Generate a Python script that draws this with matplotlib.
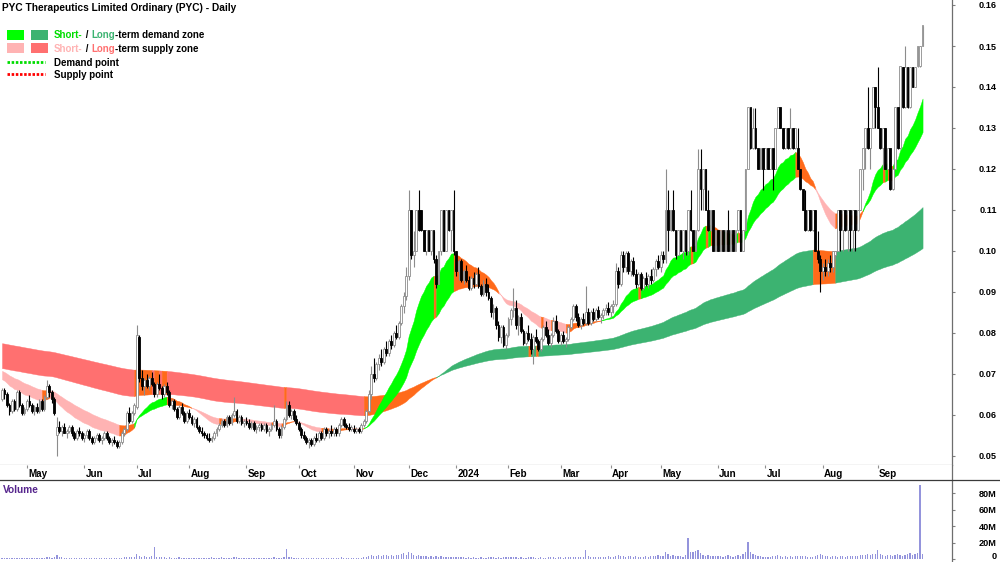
import numpy as np
import pandas as pd
import matplotlib
matplotlib.use("Agg")
import matplotlib.pyplot as plt
from matplotlib.lines import Line2D
from matplotlib.patches import Rectangle

plt.rcParams["font.family"] = ["Liberation Sans", "DejaVu Sans"]

TITLE = "PYC Therapeutics Limited Ordinary (PYC) - Daily"
START, END = "2023-04-14", "2024-09-26"
HOLIDAYS = ["2023-04-25", "2023-06-12", "2023-12-25", "2023-12-26", "2024-01-01",
            "2024-01-26", "2024-03-29", "2024-04-01", "2024-04-25", "2024-06-10"]

# daily prices in thousandths of a dollar
OPEN = [
    64,66,65,62.5,61,63.5,61.5,65.5,62.5,60.5,61.5,63.5,62.5,61,62,61,63.5,61.5,64.5,67,65.5,64,55,
    57,56,57,55.5,56,57,55.5,54.5,56,55.5,54.5,55,56,54.5,53.5,54.5,55,54,54.5,55.5,54.5,53.5,54,53.5,52.5,53.5,55.5,56.5,60.5,58.5,60.5,
    62,79,69,67,68.5,67,69,67.5,65,67.5,66.5,65,67,65.5,62.5,63.5,61.5,59.5,62,60.5,58.5,60.5,
    59.5,58,59,57,56,55.5,55,54.5,54,54.5,55.5,56.5,57.5,58.5,57.5,59.5,58,60,61,58.5,59.5,58,58.5,
    58,57,58,56.5,57,57.5,56.5,57.5,56,56.5,57.5,58.5,56.5,55,57,59,62.5,60,61,59,58,
    56.5,55,54.5,53.5,54,53,54.5,54,55.5,54.5,56.5,55.5,56,55.5,56.5,55.5,57.5,59,57.5,57,56.5,56.5,
    56,56.5,56,57.5,58.5,61,65,70,69,72.5,74,73,76,75,78,77,80,79,82.5,86.5,89,
    94,110,99,100,110,110,105,100,105,100,105,98,92,100,110,100,110,105,110,
    100,95,97.5,93,95,93,91,93.5,92,94.5,91.5,89.5,92,90,88.5,85,86,82,79,81.5,77,
    79.5,83.5,85.5,86,82,84,80.5,77.5,80,78.5,76,79,78,76,78.5,81.5,79.5,77.5,79.5,83,80.5,
    78,79.5,78,78.5,81.5,83.5,86.5,84,82,83.5,82.5,85,82.5,85,83.5,85.5,84,84.5,85.5,86,
    85,86.5,87,95,92,99,96,99.5,95,97.5,94.5,92,94.5,91,93.5,92,94,93,95.5,97.5,
    96,99,98,110,105,110,105,99,105,100,105,100,110,105,100,105,120,115,120,110,105,110,100,
    105,100,105,100,105,100,105,100,105,110,100,105,120,135,125,130,125,120,125,
    120,125,120,125,120,130,135,130,125,130,125,130,125,125,120,115,110,105,110,105,110,100,98,
    95,96,95,97,96,99,100,110,105,110,105,110,105,110,105,110,120,125,130,125,130,140,
    135,130,125,130,120,125,115,120,135,125,145,135,145,135,145,140,145,145,150,
]
HIGH = [
    66.5,66.5,65.5,63,64,64,66,66,63,62,64,65,63,62.5,63,64,64,65,68.5,67.5,66,64.5,59.5,
    58.5,57.5,58,56.5,57.5,57.5,56,56.5,57,56,55.5,56.5,56.5,55,55,55.5,55.5,55,56,56,55,54.5,55,54,54,56,57,61,62,61,63,
    82,79.5,71,69,70,69.5,70.5,68,68,70,67,67.5,68,66,64,64,62,62.5,63,61,61,61.5,
    60,59.5,59.5,57.5,57,56,55.5,55.5,55,56,57,58,59,59,60,60,60.5,64.5,61.5,60,60,59,59.5,
    59,58.5,58.5,57.5,58,58,58,58,57,58,62.5,59,57,57.5,59.5,63.5,63.5,61.5,61.5,60,58.5,
    57,56,55,54.5,54.5,55,55.5,56,56,57,57,56.5,57.5,57,57,58,59.5,59.5,58,58,57.5,57.5,
    57,57,58,59,61.5,66,72,74,73,75,76,76.5,78,78.5,79.5,80.5,82,83,87,90,96,
    115,110,105,110,115,110,105,105,105,105,105,99,100,110,110,110,110,110,115,
    100,98,98,95.5,96.5,94,94,95,95,96,92,93,93.5,92,89,87,86.5,83,82,82,80,
    84,86,91,88,84.5,85,81,80.5,82,80,79.5,81,78.5,79,82,83,81,80,84,84.5,81,
    80,80.5,79,82,84,87,87,85,84,85,91.5,86,85.5,86,86,86.5,85,86,87,87.5,
    87,88,97,96,100,100,100,100,98,98.5,95.5,95,95,94,95,94.5,95.5,96,98,99,
    100,100,120,115,110,115,105,105,105,105,105,110,115,105,105,125,125,120,120,115,110,110,105,
    105,105,105,105,110,105,105,105,110,110,105,120,135,135,135,135,125,125,125,
    125,125,125,125,130,135,135,130,130,130,135,130,130,130,120,115,115,110,110,110,110,105,99,
    97,98,98,99,100,100,110,110,110,110,110,110,110,110,110,120,125,130,140,130,140,140,
    145,130,130,130,125,125,120,135,135,145,145,150,145,145,145,145,150,150,155,
]
LOW = [
    63.5,64,62,60,60.5,61,61,62,60,60,61,62,60.5,60,60.5,60.5,61,61,64,64.5,63,60,50,
    55.5,55,55.5,54.5,55.5,55,54,54,55,54,53.5,54.5,54,53,53,54,53.5,53,54,54,53,52.5,53,52,52,53,55,56,58,58,60,
    61.5,68,66,65,66.5,66,67,64.5,64.5,66,64,64.5,65,62,61.5,61,59,59,60,58,58,59,
    57.5,57,56.5,55.5,55,54.5,54,53.5,53.5,54,55,56,57,57,57,57.5,57.5,59.5,58,58,57.5,57,57.5,
    56.5,56.5,56,55.5,56,56,56,55.5,55,56,57,56,54.5,54.5,56.5,58.5,59.5,59,58.5,57.5,56,
    54.5,54,53,52,52.5,52.5,53.5,53.5,54,54,55,54.5,55,55,55,55,57,57,56.5,56,56,55.5,
    55.5,55.5,55.5,57,58,60.5,64,68,68.5,71,72,72.5,74.5,74.5,76,76.5,78.5,78.5,82,85,88,
    93,98,96,100,105,105,100,99,100,99,97,91,92,99,100,100,105,100,99,
    94,93,92.5,92,92.5,90.5,90.5,91,91.5,91,89,89,89,88,84,83.5,81,78,77.5,76.5,76,
    79,82,84,81,79.5,80,77,77,78,75,72.5,77.5,75.5,75.5,78,79,77,76.5,79,80,77.5,
    77,77.5,76.5,78,81,83,83,81.5,81,82,82,82,82,83,83,83.5,82.5,83.5,84.5,84.5,
    84,85,86.5,91,91.5,95,95,94.5,94,94,91,91.5,90.5,90.5,91.5,91,92,92.5,94,95.5,
    95,97,97,100,105,105,98,99,100,98,99,99,105,100,100,105,110,110,110,105,105,100,100,
    100,100,100,100,100,100,100,100,105,100,100,105,120,125,125,125,120,120,115,
    120,120,120,115,120,130,130,125,125,125,125,125,125,120,115,110,105,105,105,105,100,97,90,
    93,94,94,95,95,98,100,100,100,105,100,100,100,100,105,110,115,120,125,120,130,130,
    130,125,120,120,120,115,115,120,125,125,135,135,135,135,140,140,145,145,150,
]
CLOSE = [
    66,65,62.5,61,63.5,61.5,65.5,62.5,60.5,61.5,63.5,62.5,61,62,61,63.5,61.5,64.5,67,65.5,64,60.5,57,
    56,57,55.5,56,57,55.5,54.5,56,55.5,54.5,55,56,54.5,53.5,54.5,55,54,54.5,55.5,54.5,53.5,54,53.5,52.5,53.5,55.5,56.5,60.5,58.5,60.5,62.5,
    79.5,69,67,68.5,67,69,67.5,65,67.5,66.5,65,67,65.5,62.5,63.5,61.5,59.5,62,60.5,58.5,60.5,59.5,
    58,59,57,56,55.5,55,54.5,54,54.5,55.5,56.5,57.5,58.5,57.5,59.5,58,60,61,58.5,59.5,58,58.5,58,
    57,58,56.5,57,57.5,56.5,57.5,56,56.5,57.5,58.5,56.5,55,57,59,62.5,60,61,59,58,56.5,
    55,54.5,53.5,54,53,54.5,54,55.5,54.5,56.5,55.5,56,55.5,56.5,55.5,57.5,59,57.5,57,56.5,57,56,
    56.5,56,57.5,58.5,61,65,70,69,72.5,74,73,76,75,78,77,80,79,82.5,86.5,89,94,
    110,99,100,110,105,105,100,105,100,105,98,92,100,110,100,110,105,110,100,
    95,97.5,93,95,93,91,93.5,92,94.5,91.5,89.5,92,90,88.5,85,86,82,79,81.5,77,79.5,
    83.5,85.5,86,82,84,80.5,77.5,80,78.5,76,79,78,76,78.5,81.5,79.5,77.5,79.5,83,80.5,78,
    79.5,78,78.5,81.5,83.5,86.5,84,82,83.5,82.5,85,82.5,85,83.5,85.5,84,84.5,85.5,86,85,
    86.5,87,95,92,99,96,99.5,95,97.5,94.5,92,94.5,91,93.5,92,94,93,95.5,97.5,96,
    99,98,110,105,110,105,99,105,100,105,100,110,105,100,105,120,115,120,110,105,110,100,105,
    100,105,100,105,100,105,100,105,110,100,105,120,135,125,130,125,120,125,120,
    125,120,125,120,130,135,130,125,130,125,130,125,130,120,115,110,105,110,105,110,100,98,95,
    96,95,97,96,100,100,110,105,110,105,110,105,110,105,110,120,125,130,125,130,140,135,
    130,125,130,120,125,115,120,135,125,145,135,145,135,145,140,145,150,150,155,
]
# daily volume, millions of shares
VOLUME_M = [
    1.5,1,1.2,0.8,1,1.5,1,0.8,1,1.2,0.8,1,1.2,1,0.8,1,1.5,1.2,3,2,1.5,2,5,
    3,2,1.5,1,1.2,1.5,1,0.8,1,1.2,1.5,1,0.8,1,1.2,0.8,1,1.5,1,0.8,1,1.2,1,0.8,1,1.5,2,3,2.5,2,3,
    6,4,3,3.5,2.5,3,4,15,3,2,2.5,2,1.5,2,1.5,1,1.2,2,1,0.8,1,1.5,
    1,0.8,1,1.5,1,0.8,1,1.5,2,1.2,1,1.5,2,1.5,1,1.2,1.5,3,2,1.5,1,1.2,1,
    1,0.8,1,1.5,1,1.2,1,0.8,1,1.2,2,1.5,1,1.2,2,12,3,2,1.5,1,1.2,
    1,0.8,1,1.5,1.2,1,0.8,1,1.2,1.5,1,0.8,1,1.5,1.2,1,2,1.5,1,1.2,1,1.5,
    1.2,1,1.5,2,2.5,4,5,4,3.5,5,4,5,4.5,4,5,4,5,4.5,6,7,5,
    9,7,5,4,5,4,3.5,4,3,3.5,3,4,3,4,3,2.5,3,2.5,3,
    2.5,2,2.5,2,1.5,2,1.5,2,1.8,1.5,2,1.5,1.5,2,2.5,2,1.5,2,1.8,2,2.5,
    3,2,2.5,2,1.5,2,1.8,1.5,2,2.5,2,1.5,1.5,2,1.8,1.5,2,2.5,2,1.5,2,
    2,1.5,2,2.5,2.5,3,2.5,2,2.5,3,11,4,3,2.5,3,2.5,3,2.5,3,3.5,
    3,2.5,4,5,4,3.5,3,3.5,4,3,3.5,3,2.5,3,3.5,3,4,3.5,4,5,
    4,3.5,8,6,4,5,4,3.5,4,3,5,25,9,8,10,11,7,5,4,5,4,3.5,4,
    4,3.5,3,4,5,3.5,3,4,5,4,6,9,21,9,6,5,4,3.5,3,
    3,2.5,3,3.5,4,5,4,3,3.5,3,4,3,3.5,4,4,3.5,4,3,2.5,3,4,5,6,
    5,4,3.5,3,4,3.5,3,4,3.5,3,4,3.5,4,3.5,4,5,4.5,5,6,5,6,6,
    11,6,5,4,4.5,5,4,5,6,5,4,5,6,7,5,6,7,90,6,
]

# trend-zone settings: EMA spans (fast, slow) and their starting values
SHORT_SPANS = (20, 40)
SHORT_SEEDS = (0.069, 0.071)
LONG_SPANS = (150, 260)
LONG_SEEDS = (0.0715, 0.0776)

PRICE_TICKS = [0.05, 0.06, 0.07, 0.08, 0.09, 0.10, 0.11, 0.12, 0.13, 0.14, 0.15, 0.16]
VOL_TICKS = [0, 20, 40, 60, 80]
VOL_LABELS = ["0", "20M", "40M", "60M", "80M"]

# ---------------------------------------------------------------
dates = pd.bdate_range(START, END)
dates = dates[~dates.isin(pd.to_datetime(HOLIDAYS))]
o = np.array(OPEN) / 1000.0
h = np.array(HIGH) / 1000.0
l = np.array(LOW) / 1000.0
c = np.array(CLOSE) / 1000.0
vol = np.array(VOLUME_M, dtype=float)
n = len(c)
for name, arr in [("open", o), ("high", h), ("low", l), ("vol", vol)]:
    if len(arr) != n:
        raise SystemExit(f"length mismatch {name}: {len(arr)} vs {n}")
if len(dates) != n:
    raise SystemExit(f"dates {len(dates)} vs {n}")
x = np.arange(n)


def ema(values, span, seed):
    a = 2.0 / (span + 1)
    out = np.empty(len(values))
    e = seed
    for k, v in enumerate(values):
        e += a * (v - e)
        out[k] = e
    return out


W, H = 1000, 562
fig = plt.figure(figsize=(W / 100, H / 100), dpi=100)


def rect(x0, y0, x1, y1):
    return [x0 / W, 1 - y1 / H, (x1 - x0) / W, (y1 - y0) / H]


ax = fig.add_axes(rect(0, 0, 952, 465))
axm = fig.add_axes(rect(0, 465, 952, 480))
axv = fig.add_axes(rect(0, 480, 952, 562))
XL = (-0.8, 380.8)
for a in (ax, axm, axv):
    a.set_xlim(*XL)
    a.set_facecolor("white")
    for s in ("left", "top", "bottom"):
        a.spines[s].set_visible(False)
    a.spines["right"].set_color("#6e6e6e")
    a.spines["right"].set_linewidth(0.9)

ax.spines["bottom"].set_visible(True)
ax.spines["bottom"].set_color("#a8a8a8")
ax.spines["bottom"].set_linewidth(0.9)
ax.set_ylim(0.16 - 460 / 4100, 0.16 + 5 / 4100)
ax.set_xticks([])

ORANGE = "#ff6a1a"


def zone(fast, slow, c_up, c_dn):
    lo = np.minimum(fast, slow)
    hi = np.maximum(fast, slow)
    up = fast >= slow
    cols = np.where(up & (c > hi), c_up, np.where(~up & (c < lo), c_dn, ORANGE))
    k = 1
    while k < n:
        e = k
        while e + 1 < n and cols[e + 1] == cols[k]:
            e += 1
        sl = slice(k - 1, e + 1)
        ax.fill_between(x[sl], lo[sl], hi[sl], color=cols[k], lw=0.3,
                        edgecolor=cols[k], zorder=1)
        k = e + 1


zone(ema(c, LONG_SPANS[0], LONG_SEEDS[0]), ema(c, LONG_SPANS[1], LONG_SEEDS[1]),
     "#3cb371", "#ff7070")
zone(ema(c, SHORT_SPANS[0], SHORT_SEEDS[0]), ema(c, SHORT_SPANS[1], SHORT_SEEDS[1]),
     "#00ff00", "#ffb3b3")

# candles
up = c >= o
GRAY = "#8c8c8c"
ax.vlines(x[up], l[up], h[up], color=GRAY, lw=0.8, zorder=3)
ax.vlines(x[~up], l[~up], h[~up], color="black", lw=0.8, zorder=3)
body = np.maximum(np.abs(c - o), 0.0003)
bot = np.minimum(o, c)
ax.bar(x[up], body[up], bottom=bot[up], width=0.72, facecolor="white",
       edgecolor=GRAY, linewidth=0.6, zorder=4)
ax.bar(x[~up], body[~up], bottom=bot[~up], width=0.72, facecolor="black",
       edgecolor="black", linewidth=0.6, zorder=4)

# right-hand price axis
ax.yaxis.set_ticks_position("right")
ax.set_yticks(PRICE_TICKS)
ax.set_yticklabels([f"{t:.2f}" for t in PRICE_TICKS])
TICKPAD = (997 - 952 - 2.8) / (100 / 72)
for a in (ax, axv):
    a.tick_params(axis="y", direction="out", length=2, width=0.8, color="#808080",
                  pad=TICKPAD, labelsize=6.6)

# month strip
axm.set_ylim(0, 1)
axm.set_yticks([])
month_pos = [i for i in range(1, n) if dates[i].month != dates[i - 1].month]
axm.set_xticks(month_pos)
axm.tick_params(axis="x", top=True, bottom=False, direction="in", length=2.5,
                width=0.8, color="#909090", labeltop=False, labelbottom=False)
for i in month_pos:
    d = dates[i]
    lab = str(d.year) if d.month == 1 else d.strftime("%b")
    axm.text(i + 0.55, 0.17, lab, ha="left", va="baseline", fontsize=7.1,
             fontweight="bold", color="black")

# volume panel
axv.bar(x, vol, width=0.5, color="#9494dc", linewidth=0, zorder=2)
axv.set_ylim(-3.6, 95.8)
axv.set_xticks([])
axv.yaxis.set_ticks_position("right")
axv.set_yticks(VOL_TICKS)
axv.set_yticklabels(VOL_LABELS)

for a in (ax, axv):
    for t in a.get_yticklabels():
        t.set_fontweight("bold")
        t.set_horizontalalignment("right")
lab0 = axv.get_yticklabels()[0]
lab0.set_verticalalignment("baseline")

fig.text(3 / W, 1 - 492.7 / H, "Volume", color="#55248c", fontsize=7.3,
         fontweight="bold", va="baseline", ha="left")

fig.add_artist(Line2D([0, 1], [1 - 480 / H] * 2, transform=fig.transFigure,
                      color="#3a3a3a", lw=0.9))

# title and legend
fig.text(2 / W, 1 - 10.8 / H, TITLE, fontsize=7.3, fontweight="bold",
         va="baseline", ha="left")

for (x0, x1, y0, y1, col) in [(7, 24, 30, 40, "#00ff00"), (31, 48, 30, 40, "#3cb371"),
                              (7, 24, 43, 53, "#ffb3b3"), (31, 48, 43, 53, "#ff7070")]:
    fig.add_artist(Rectangle((x0 / W, 1 - y1 / H), (x1 - x0) / W, (y1 - y0) / H,
                             transform=fig.transFigure, facecolor=col, edgecolor="none"))
for yy, col in [(62, "#00dd00"), (74, "#ff0000")]:
    fig.add_artist(Line2D([7 / W, 45 / W], [1 - yy / H] * 2, transform=fig.transFigure,
                          color=col, lw=2.0, dashes=(0.9, 0.6)))

renderer = fig.canvas.get_renderer()


def text_width(s, size):
    t = fig.text(0, 0, s + "|", fontsize=size, fontweight="bold")
    t2 = fig.text(0, 0, "|", fontsize=size, fontweight="bold")
    w = t.get_window_extent(renderer).width - t2.get_window_extent(renderer).width
    t.remove()
    t2.remove()
    return w


def ctext(x_px, base_px, parts, size=7.0):
    prefix = ""
    for s, col in parts:
        xx = x_px + (text_width(prefix, size) if prefix else 0.0)
        fig.text(xx / W, 1 - base_px / H, s, color=col, fontsize=size,
                 fontweight="bold", va="baseline", ha="left")
        prefix += s


ctext(54, 38.3, [("Short-", "#00dd00"), (" / ", "black"), ("Long", "#3cb371"),
                 ("-term demand zone", "black")])
ctext(54, 51.7, [("Short-", "#ffb3b3"), (" / ", "black"), ("Long", "#ff7070"),
                 ("-term supply zone", "black")])
ctext(54, 65.7, [("Demand point", "black")])
ctext(54, 78.0, [("Supply point", "black")])

fig.savefig("out.png", dpi=100, facecolor="white")
